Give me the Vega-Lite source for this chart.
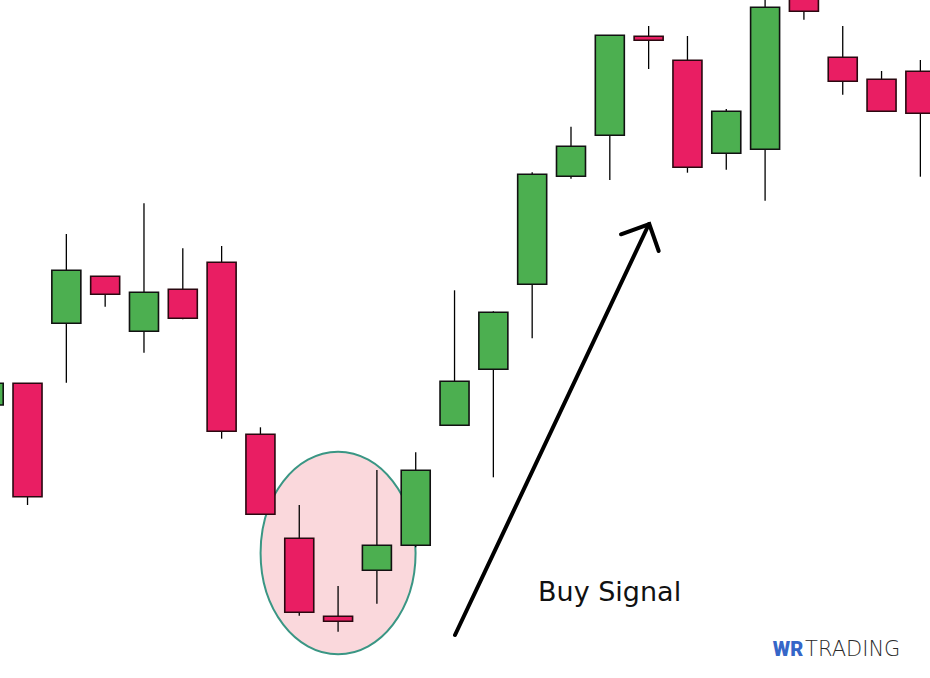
{
  "$schema": "https://vega.github.io/schema/vega-lite/v6.json",
  "autosize": {"type": "fit", "contains": "padding"},
  "width": 930,
  "height": 678,
  "padding": 0,
  "background": "#ffffff",
  "view": {"stroke": null},
  "config": {"axis": {"disable": true}},
  "datasets": {
    "candles": [
      {"k": 0, "open": 127.3, "high": 129.47, "low": 127.3, "close": 129.47},
      {"k": 1, "open": 129.47, "high": 129.47, "low": 117.3, "close": 118.13},
      {"k": 2, "open": 135.47, "high": 144.4, "low": 129.53, "close": 140.77},
      {"k": 3, "open": 140.17, "high": 140.17, "low": 137.13, "close": 138.37},
      {"k": 4, "open": 134.67, "high": 147.47, "low": 132.53, "close": 138.57},
      {"k": 5, "open": 138.87, "high": 142.97, "low": 135.87, "close": 135.97},
      {"k": 6, "open": 141.57, "high": 143.2, "low": 123.93, "close": 124.67},
      {"k": 7, "open": 124.37, "high": 125.07, "low": 116.37, "close": 116.37},
      {"k": 8, "open": 113.97, "high": 117.3, "low": 106.23, "close": 106.57},
      {"k": 9, "open": 106.17, "high": 109.2, "low": 104.63, "close": 105.67},
      {"k": 10, "open": 110.77, "high": 120.8, "low": 107.43, "close": 113.27},
      {"k": 11, "open": 113.27, "high": 122.57, "low": 113.07, "close": 120.77},
      {"k": 12, "open": 125.27, "high": 138.77, "low": 125.27, "close": 129.67},
      {"k": 13, "open": 130.87, "high": 136.67, "low": 120.07, "close": 136.57},
      {"k": 14, "open": 139.37, "high": 150.57, "low": 133.97, "close": 150.37},
      {"k": 15, "open": 150.17, "high": 155.13, "low": 149.93, "close": 153.17},
      {"k": 16, "open": 154.27, "high": 164.27, "low": 149.8, "close": 164.27},
      {"k": 17, "open": 164.17, "high": 165.2, "low": 160.9, "close": 163.77},
      {"k": 18, "open": 161.77, "high": 164.2, "low": 150.53, "close": 151.07},
      {"k": 19, "open": 152.47, "high": 156.9, "low": 150.83, "close": 156.67},
      {"k": 20, "open": 152.87, "high": 168.3, "low": 147.73, "close": 167.07},
      {"k": 21, "open": 168.5, "high": 169.0, "low": 165.83, "close": 166.67},
      {"k": 22, "open": 162.07, "high": 165.2, "low": 158.33, "close": 159.67},
      {"k": 23, "open": 159.87, "high": 160.7, "low": 156.67, "close": 156.67},
      {"k": 24, "open": 160.67, "high": 161.8, "low": 150.13, "close": 156.47}
    ],
    "highlight": [{"k": 9.0, "price": 112.5}],
    "arrow": [
      {"part": "shaft", "seq": 1, "k": 12.012, "price": 104.3},
      {"part": "shaft", "seq": 2, "k": 17.009, "price": 145.4},
      {"part": "head", "seq": 1, "k": 16.288, "price": 144.37},
      {"part": "head", "seq": 2, "k": 17.017, "price": 145.4},
      {"part": "head", "seq": 3, "k": 17.259, "price": 142.7}
    ],
    "signal": [{"k": 14.15, "price": 107.7, "label": "Buy Signal"}],
    "logo1": [{"k": 20.984, "price": 102.23, "label": "WR"}],
    "logo2": [{"k": 21.03, "price": 102.23, "label": "TRADING"}]
  },
  "encoding": {
    "x": {"field": "k", "type": "quantitative", "scale": {"domain": [0.291, 24.248], "nice": false, "zero": false, "padding": 0}, "axis": null},
    "y": {"type": "quantitative", "scale": {"domain": [100, 167.8], "nice": false, "zero": false, "padding": 0}, "axis": null}
  },
  "layer": [
    {
      "data": {"name": "highlight"},
      "mark": {
        "type": "point",
        "shape": "M 0.765,0 C 0.765,0.5523 0.4225,1 0,1 C -0.4225,1 -0.765,0.5523 -0.765,0 C -0.765,-0.5523 -0.4225,-1 0,-1 C 0.4225,-1 0.765,-0.5523 0.765,0 Z",
        "size": 41047,
        "filled": true,
        "fill": "#fad8dc",
        "stroke": "#3a9684",
        "strokeWidth": 2,
        "opacity": 1
      },
      "encoding": {"y": {"field": "price", "type": "quantitative"}}
    },
    {
      "data": {"name": "candles"},
      "mark": {"type": "rule", "stroke": "#000000", "strokeWidth": 1.3, "clip": true},
      "encoding": {
        "y": {"field": "low", "type": "quantitative"},
        "y2": {"field": "high"}
      }
    },
    {
      "data": {"name": "candles"},
      "mark": {"type": "bar", "size": 29, "strokeWidth": 1.6, "clip": true},
      "encoding": {
        "y": {"field": "open", "type": "quantitative"},
        "y2": {"field": "close"},
        "fill": {"condition": {"test": "datum.close > datum.open", "value": "#4caf50"}, "value": "#e91e63"},
        "stroke": {"condition": {"test": "datum.close > datum.open", "value": "#111111"}, "value": "#2a0810"}
      }
    },
    {
      "data": {"name": "arrow"},
      "mark": {"type": "line", "stroke": "#000000", "strokeWidth": 4, "strokeCap": "round", "strokeJoin": "miter"},
      "encoding": {
        "y": {"field": "price", "type": "quantitative"},
        "detail": {"field": "part"},
        "order": {"field": "seq"}
      }
    },
    {
      "data": {"name": "signal"},
      "mark": {"type": "text", "align": "left", "baseline": "alphabetic", "font": "DejaVu Sans", "fontSize": 27, "color": "#111111"},
      "encoding": {
        "y": {"field": "price", "type": "quantitative"},
        "text": {"field": "label"}
      }
    },
    {
      "data": {"name": "logo1"},
      "mark": {"type": "text", "align": "right", "baseline": "alphabetic", "font": "Roboto", "fontWeight": 900, "fontSize": 20, "color": "#3566c8"},
      "encoding": {
        "y": {"field": "price", "type": "quantitative"},
        "text": {"field": "label"}
      }
    },
    {
      "data": {"name": "logo2"},
      "mark": {"type": "text", "align": "left", "baseline": "alphabetic", "font": "DejaVu Sans", "fontWeight": 200, "fontSize": 21, "color": "#2a2a2a"},
      "encoding": {
        "y": {"field": "price", "type": "quantitative"},
        "text": {"field": "label"}
      }
    }
  ]
}
